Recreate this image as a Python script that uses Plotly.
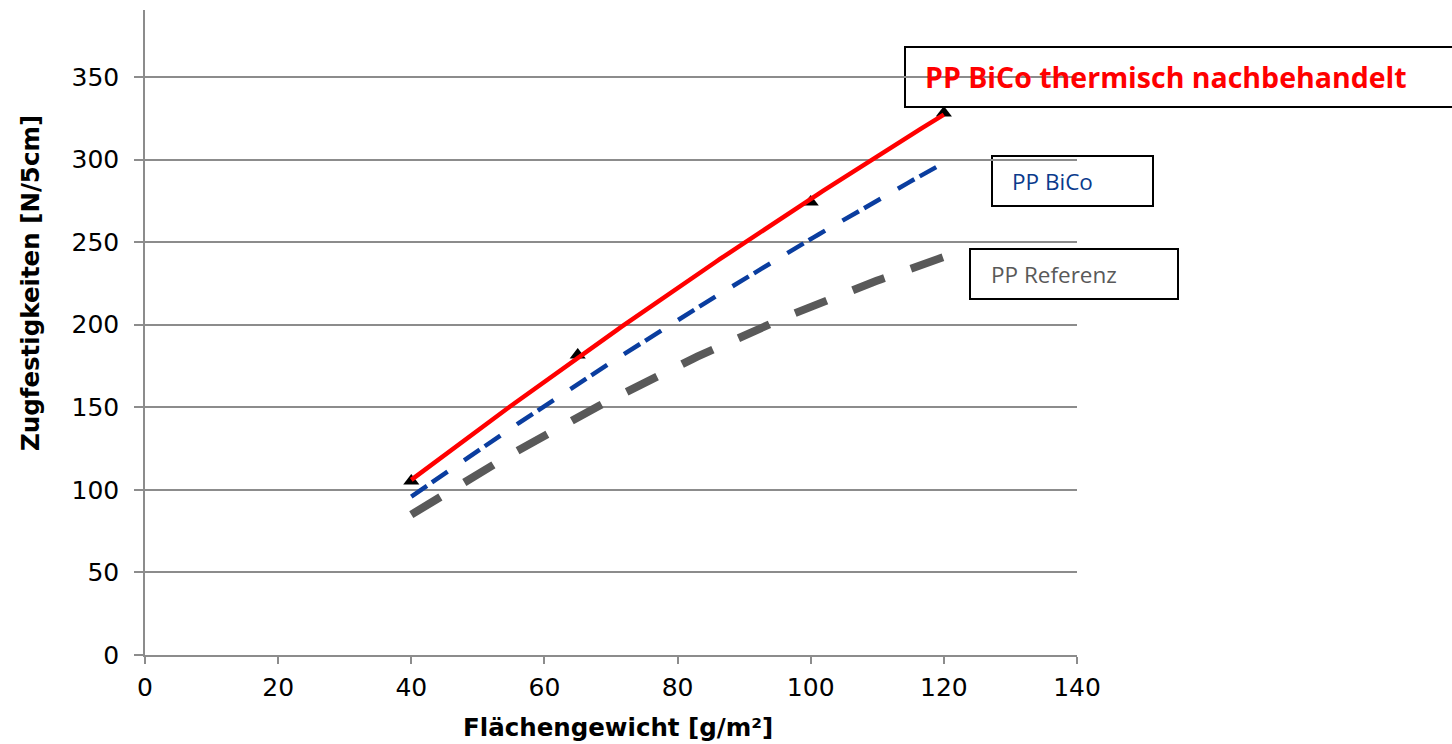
import numpy as np
import plotly.graph_objects as go

# Flächengewicht [g/m²]
gewicht = [40, 65, 100, 120]

# Zugfestigkeiten [N/5cm]
bico_thermisch = [105.4, 181.7, 274.3, 328.2]
bico = [96, 164, 252, 298]
referenz = [85, 144, 211, 241]

x_ticks = [0, 20, 40, 60, 80, 100, 120, 140]
y_ticks = [0, 50, 100, 150, 200, 250, 300, 350]

W, H = 1452, 744
L, R, T, B = 145, 375, 10, 89
PW, PH = W - L - R, H - T - B


def px(x):
    return (x - L) / PW


def py(y):
    return (H - B - y) / PH


def trend(xs, ys, n=120):
    coef = np.polyfit(xs, ys, 2)
    xx = np.linspace(min(xs), max(xs), n)
    return xx, np.polyval(coef, xx)


fig = go.Figure()

# measured points, thermally post-treated
fig.add_trace(go.Scatter(
    x=gewicht, y=bico_thermisch, mode="markers",
    marker=dict(symbol="triangle-up", size=14, color="black"),
    showlegend=False, hoverinfo="skip"))

xr, yr = trend(gewicht, referenz)
fig.add_trace(go.Scatter(
    x=xr, y=yr, mode="lines",
    line=dict(color="#595959", width=8, dash="34px,28px"),
    showlegend=False))

xb, yb = trend(gewicht, bico)
fig.add_trace(go.Scatter(
    x=xb, y=yb, mode="lines",
    line=dict(color="#0a3d9f", width=4.5, dash="19px,6px,19px,20px"),
    showlegend=False))

xt, yt = trend(gewicht, bico_thermisch)
fig.add_trace(go.Scatter(
    x=xt, y=yt, mode="lines",
    line=dict(color="#ff0000", width=4.5),
    showlegend=False))

tick_font = dict(family="DejaVu Sans", size=25, color="black")
grid_col = "#8c8c8c"

fig.update_layout(
    width=W, height=H,
    margin=dict(l=L, r=R, t=T, b=B, pad=0),
    paper_bgcolor="white", plot_bgcolor="white",
    xaxis=dict(
        range=[0, 140], tickvals=x_ticks, ticktext=[str(v) for v in x_ticks],
        showgrid=False, zeroline=False,
        showline=True, linecolor=grid_col, linewidth=1.5,
        ticks="outside", ticklen=7, tickwidth=1.5, tickcolor=grid_col,
        tickfont=tick_font, ticklabelstandoff=2),
    yaxis=dict(
        range=[0, 390.6], tickvals=y_ticks, ticktext=[str(v) for v in y_ticks],
        showgrid=True, gridcolor=grid_col, gridwidth=1.5, zeroline=False,
        showline=True, linecolor=grid_col, linewidth=1.5,
        ticks="outside", ticklen=9, tickwidth=1.5, tickcolor=grid_col,
        tickfont=tick_font, ticklabelstandoff=10),
)

title_font = dict(family="DejaVu Sans", size=24.5, color="black", weight="bold")

annotations = [
    dict(text="Flächengewicht [g/m²]", x=px(618), y=py(727),
         xanchor="center", yanchor="middle", font=title_font),
    dict(text="Zugfestigkeiten [N/5cm]", x=px(31), y=py(283), textangle=-90,
         xanchor="center", yanchor="middle", font=title_font),
    dict(text="PP BiCo thermisch nachbehandelt", x=px(923), y=py(77),
         xanchor="left", yanchor="middle",
         font=dict(family="Open Sans", size=28.5, color="#ff0000", weight="bold")),
    dict(text="PP BiCo", x=px(1010), y=py(181),
         xanchor="left", yanchor="middle",
         font=dict(family="Open Sans", size=22.5, color="#0a3a8c")),
    dict(text="PP Referenz", x=px(989), y=py(274),
         xanchor="left", yanchor="middle",
         font=dict(family="Open Sans", size=22.5, color="#595959")),
]
for a in annotations:
    a.update(xref="paper", yref="paper", showarrow=False)
fig.update_layout(annotations=annotations)

boxes = [(905, 47, 1460, 107), (992, 156, 1153, 206), (970, 249, 1178, 299)]
fig.update_layout(shapes=[
    dict(type="rect", xref="paper", yref="paper",
         x0=px(a), x1=px(c), y0=py(d), y1=py(b),
         line=dict(color="black", width=2), fillcolor="white", layer="below")
    for a, b, c, d in boxes
])

fig.write_html("out.html")
